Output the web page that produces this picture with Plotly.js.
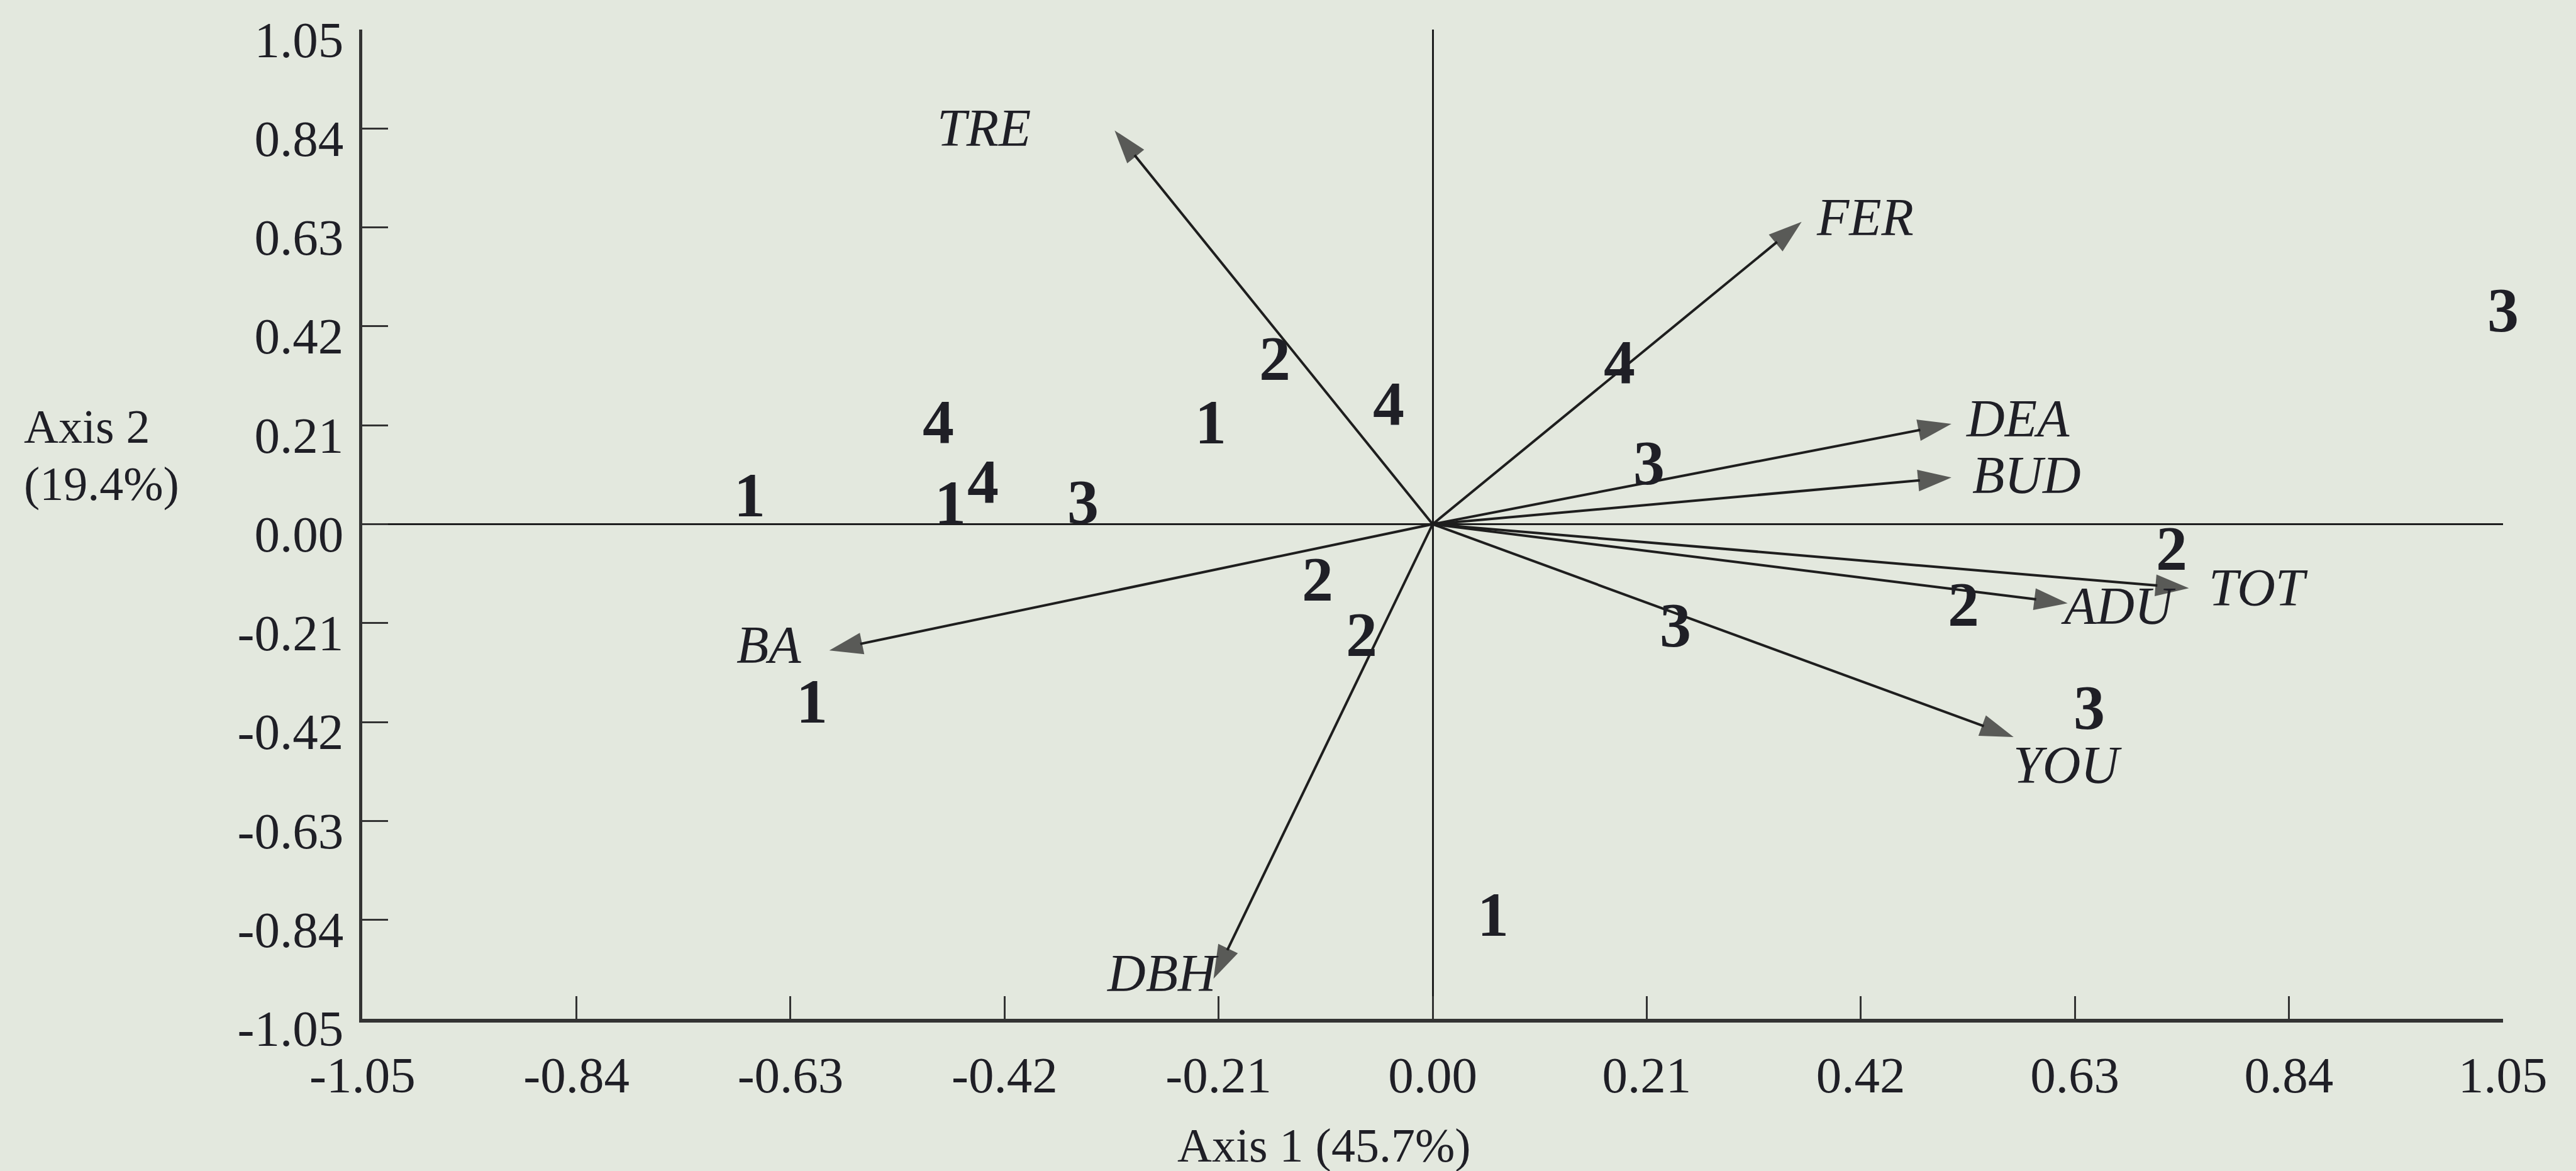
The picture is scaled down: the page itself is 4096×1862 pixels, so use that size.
<!DOCTYPE html>
<html>
<head>
<meta charset="utf-8">
<script src="https://cdn.plot.ly/plotly-3.0.1.min.js"></script>
<style>
html,body{margin:0;padding:0;background:#e3e8de;}
#chart{width:4096px;height:1862px;}
</style>
</head>
<body>
<div id="chart"></div>
<script>
// Variable vectors (arrows from origin)
const varNames = ["TRE", "FER", "DEA", "BUD", "TOT", "ADU", "YOU", "BA", "DBH"];
const varX = [-0.312, 0.362, 0.509, 0.509, 0.742, 0.623, 0.570, -0.592, -0.215];
const varY = [0.836, 0.642, 0.213, 0.099, -0.136, -0.168, -0.452, -0.268, -0.965];
// Where each variable's name sits
const varLabelX = [-0.440, 0.424, 0.574, 0.583, 0.810, 0.673, 0.623, -0.651, -0.265];
const varLabelY = [0.845, 0.655, 0.228, 0.108, -0.131, -0.170, -0.508, -0.252, -0.950];

// Site scores, labelled by group
const siteGroup = ["1","4","1","4","3","1","2","4","4","3","2","2","3","3","3","1","2","2","1"];
const siteX = [-0.670, -0.485, -0.473, -0.441, -0.343, -0.218, -0.155, -0.043, 0.183, 0.212, 0.725, 0.521, 0.238, 0.644, 1.050, -0.609, -0.113, -0.070, 0.059];
const siteY = [0.066, 0.222, 0.050, 0.095, 0.052, 0.220, 0.356, 0.260, 0.348, 0.135, -0.047, -0.166, -0.210, -0.385, 0.460, -0.373, -0.112, -0.230, -0.825];

// Axis ticks
const tickVals = [-1.05, -0.84, -0.63, -0.42, -0.21, 0, 0.21, 0.42, 0.63, 0.84, 1.05];
const tickText = ["-1.05", "-0.84", "-0.63", "-0.42", "-0.21", "0.00", "0.21", "0.42", "0.63", "0.84", "1.05"];

const xTitle = "Axis 1 (45.7%)";
const yTitle1 = "Axis 2";
const yTitle2 = "(19.4%)";

const ink = "#1f1f26";
const lineInk = "#1e1e1e";
const serif = "Liberation Serif, Times New Roman, serif";

const traces = [];
for (let i = 0; i < varNames.length; i++) {
  traces.push({
    type: "scatter",
    mode: "lines+markers",
    x: [0, varX[i]],
    y: [0, varY[i]],
    line: {color: lineInk, width: 4},
    marker: {symbol: "arrow", size: [0, 56], angleref: "previous", color: lineInk, line: {width: 0}},
    hoverinfo: "skip",
    showlegend: false,
    cliponaxis: false
  });
}

const annotations = [];
// variable names (italic)
for (let i = 0; i < varNames.length; i++) {
  annotations.push({
    text: varNames[i], x: varLabelX[i], y: varLabelY[i], xref: "x", yref: "y",
    xanchor: "center", yanchor: "middle", yshift: -3, showarrow: false,
    font: {family: serif, size: 84, color: ink, style: "italic"}
  });
}
// site group numbers (bold)
for (let i = 0; i < siteGroup.length; i++) {
  annotations.push({
    text: siteGroup[i], x: siteX[i], y: siteY[i], xref: "x", yref: "y",
    xanchor: "center", yanchor: "middle", yshift: -3, showarrow: false,
    font: {family: serif, size: 100, color: ink, weight: "bold"}
  });
}
annotations.push(
  {text: xTitle, xref: "paper", yref: "paper", x: 0.4492, y: -0.1278, xanchor: "center", yanchor: "middle",
   showarrow: false, font: {family: serif, size: 76, color: ink}},
  {text: yTitle1, xref: "paper", yref: "paper", x: -0.1587, y: 0.599, xanchor: "left", yanchor: "middle",
   showarrow: false, font: {family: serif, size: 76, color: ink}},
  {text: yTitle2, xref: "paper", yref: "paper", x: -0.1587, y: 0.541, xanchor: "left", yanchor: "middle",
   showarrow: false, font: {family: serif, size: 76, color: ink}}
);

const axisCommon = {
  range: [-1.0502, 1.0502],
  tickmode: "array",
  tickvals: tickVals,
  ticktext: tickText,
  showgrid: false,
  zeroline: true,
  zerolinecolor: lineInk,
  zerolinewidth: 3,
  showline: true,
  linecolor: "#333333",
  linewidth: 5.5,
  ticks: "inside",
  tickcolor: "#333333",
  tickwidth: 3,
  tickfont: {family: serif, size: 81, color: ink},
  fixedrange: true,
  mirror: false
};

const layout = {
  width: 4096,
  height: 1862,
  margin: {l: 575.5, r: 115.5, t: 47.2, b: 242, pad: 0},
  paper_bgcolor: "#e3e8de",
  plot_bgcolor: "#e3e8de",
  showlegend: false,
  xaxis: Object.assign({}, axisCommon, {ticklen: 36, ticklabelstandoff: 14}),
  yaxis: Object.assign({}, axisCommon, {ticklen: 41, ticklabelstandoff: 8, ticklabelshift: 15}),
  annotations: annotations
};

Plotly.newPlot("chart", traces, layout, {displayModeBar: false, staticPlot: true});
</script>
</body>
</html>
